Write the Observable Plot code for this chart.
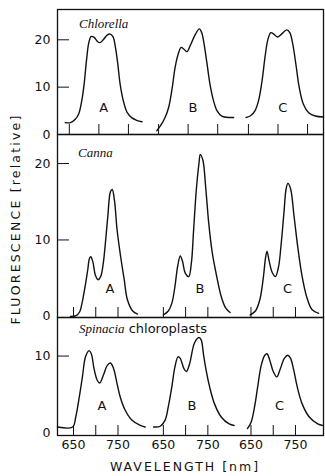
<!DOCTYPE html>
<html><head><meta charset="utf-8">
<script src="https://cdn.jsdelivr.net/npm/d3@7"></script>
<script src="https://cdn.jsdelivr.net/npm/@observablehq/plot@0.6"></script>
<style>
html,body{margin:0;padding:0;background:#fff;}
#root{position:relative;width:325px;height:476px;overflow:hidden;font-family:"DejaVu Sans",sans-serif;color:#111;}
#root svg{position:absolute;left:0;}
.lbl{position:absolute;white-space:nowrap;line-height:1;}
.sp{font-family:"Liberation Serif","DejaVu Serif",serif;font-style:italic;}
</style></head><body><div id="root"></div>
<script>
// ---- Data (wavelength in nm, fluorescence relative) ----
const panels = ["A", "B", "C"];
const tickWavelengths = [650, 700, 750];
const labeledWavelengths = [650, 750];

// Chlorella
const chlorellaA_wl = [643, 652, 660, 666, 671, 675, 679, 683, 687, 692, 698, 702, 708, 714, 719, 724, 728, 732, 736, 742, 748, 756, 764, 773];
const chlorellaA_f  = [2.5, 2.5, 3.2, 4.4, 7.1, 10.6, 15.6, 19.4, 20.7, 20.5, 19.6, 19.4, 20.1, 21.0, 21.2, 20.6, 18.4, 14.9, 10.6, 6.8, 4.6, 3.5, 3.0, 2.7];
const chlorellaB_wl = [647, 653, 661, 667, 673, 678, 684, 688, 693, 698, 704, 712, 719, 723, 727, 732, 737, 743, 749, 757, 777];
const chlorellaB_f  = [0.8, 1.8, 3.6, 5.7, 9.8, 14.2, 17.3, 18.4, 18.0, 17.5, 18.9, 21.1, 22.3, 21.5, 19.1, 14.9, 10.6, 7.1, 5.0, 3.9, 3.6];
const chlorellaC_wl = [646, 653, 661, 667, 673, 678, 683, 688, 693, 699, 706, 715, 720, 725, 731, 736, 743, 752, 763, 777];
const chlorellaC_f  = [3.6, 3.9, 5.0, 7.1, 11.3, 16.3, 20.1, 21.5, 21.2, 20.6, 21.2, 22.1, 21.5, 19.1, 14.2, 9.9, 6.4, 4.6, 3.9, 3.7];

// Canna
const cannaA_wl = [643, 656, 664, 669, 676, 682, 686, 689, 694, 699, 705, 711, 717, 722, 727, 733, 737, 742, 748, 756, 764, 771, 783, 794];
const cannaA_f  = [0, 0.1, 0.6, 1.7, 3.9, 6.1, 7.6, 7.8, 7.0, 5.4, 4.8, 5.2, 7.0, 9.8, 13.0, 16.3, 16.6, 15.2, 11.3, 7.8, 4.8, 2.2, 0.7, 0.3];
const cannaB_wl = [650, 661, 669, 676, 682, 688, 693, 699, 707, 713, 718, 724, 730, 733, 739, 745, 752, 760, 770, 780, 790, 800];
const cannaB_f  = [0.2, 0.7, 1.7, 3.9, 6.5, 7.9, 7.2, 5.7, 5.2, 7.0, 11.3, 16.5, 20.0, 21.2, 20.4, 17.0, 12.2, 8.3, 5.2, 2.6, 1.1, 0.5];
const cannaC_wl = [648, 660, 670, 678, 683, 686, 691, 698, 705, 712, 718, 724, 729, 733, 739, 747, 756, 765, 775, 787, 802];
const cannaC_f  = [0.2, 0.7, 2.2, 5.2, 7.8, 8.5, 7.2, 5.7, 5.2, 6.5, 9.6, 13.5, 16.7, 17.4, 16.7, 13.0, 8.7, 5.2, 2.6, 0.9, 0.4];

// Spinacia chloroplasts
const spinaciaA_wl = [614, 648, 655, 663, 670, 677, 685, 690, 696, 703, 709, 717, 726, 733, 740, 748, 755, 766, 781, 800, 811];
const spinaciaA_f  = [0.8, 0.8, 2.1, 4.7, 7.3, 9.9, 10.7, 10.3, 8.4, 6.9, 6.5, 7.5, 8.8, 9.1, 8.4, 6.4, 4.7, 3.0, 1.7, 1.0, 0.8];
const spinaciaB_wl = [628, 643, 654, 661, 669, 676, 683, 688, 696, 702, 709, 720, 730, 735, 740, 746, 754, 765, 780, 798, 809];
const spinaciaB_f  = [0.8, 0.9, 1.7, 3.4, 6.0, 8.6, 9.9, 9.7, 8.4, 8.0, 9.0, 11.7, 12.4, 12.1, 10.3, 8.2, 6.0, 3.8, 2.1, 1.2, 1.0];
const spinaciaC_wl = [642, 650, 658, 665, 673, 681, 686, 692, 700, 708, 715, 725, 733, 739, 746, 754, 765, 781, 800, 811];
const spinaciaC_f  = [0.6, 1.4, 3.4, 6.0, 8.8, 10.1, 10.3, 9.5, 8.0, 7.3, 8.2, 9.7, 10.1, 9.7, 8.2, 6.0, 3.8, 2.1, 1.2, 1.0];

const yTicksChlorella = [0, 10, 20];
const yTicksCanna = [0, 10, 20];
const yTicksSpinacia = [0, 10];

// ---- Layout ----
const W = 325, ML = 57, MR = 2;
const ink = "#111";
const root = document.getElementById("root");

function drawRow(o) {
  const table = [];
  o.curves.forEach(([wl, f], i) => {
    wl.forEach((w, j) => table.push({panel: panels[i], x: w + o.offsets[i], y: f[j]}));
  });
  const tickPos = o.offsets.flatMap(off => tickWavelengths.map(w => w + off));
  const labelMap = new Map(o.offsets.flatMap(off => labeledWavelengths.map(w => [w + off, String(w)])));
  const plotW = W - ML - MR;
  const plotH = o.height - o.marginTop - o.marginBottom;
  const letters = panels.map((p, i) => ({p, x: o.letterWl + o.offsets[i], y: o.letterY}));
  const marks = [
    Plot.frame({stroke: ink, strokeWidth: 1.3}),
    Plot.tickX(tickPos, {x: d => d, insetTop: plotH - 10, stroke: ink, strokeWidth: 1}),
    Plot.tickY(o.yTicks.filter(d => d > 0), {y: d => d, insetRight: plotW - 12, stroke: ink, strokeWidth: 1}),
    Plot.axisY(o.yTicks, {tickSize: 0, tickPadding: 7, fontSize: 12.5, label: null}),
    Plot.line(table, {x: "x", y: "y", z: "panel", curve: "catmull-rom", stroke: ink, strokeWidth: 1.4}),
    Plot.text(letters, {x: "x", y: "y", text: "p", fontSize: 13, fill: ink})
  ];
  if (o.xLabels) {
    marks.push(Plot.axisX([...labelMap.keys()], {tickSize: 0, tickPadding: 5, fontSize: 12.5, tickFormat: d => labelMap.get(d), label: null}));
  }
  const svg = Plot.plot({
    width: W, height: o.height,
    marginLeft: ML, marginRight: MR, marginTop: o.marginTop, marginBottom: o.marginBottom,
    x: {domain: o.xDomain, axis: o.xLabels ? undefined : null},
    y: {domain: o.yDomain},
    style: {background: "transparent", overflow: "visible", color: ink, fontFamily: "DejaVu Sans, sans-serif"},
    marks
  });
  svg.style.top = o.top + "px";
  root.appendChild(svg);
}

drawRow({
  curves: [[chlorellaA_wl, chlorellaA_f], [chlorellaB_wl, chlorellaB_f], [chlorellaC_wl, chlorellaC_f]],
  offsets: [0, 151, 303], xDomain: [630, 1080], yDomain: [0, 26.4], yTicks: yTicksChlorella,
  top: 0, height: 140, marginTop: 9, marginBottom: 6, letterWl: 708, letterY: 5.6, xLabels: false
});
drawRow({
  curves: [[cannaA_wl, cannaA_f], [cannaB_wl, cannaB_f], [cannaC_wl, cannaC_f]],
  offsets: [0, 202, 399], xDomain: [614, 1212], yDomain: [-0.15, 23.8], yTicks: yTicksCanna,
  top: 128, height: 195, marginTop: 6, marginBottom: 6, letterWl: 732, letterY: 3.6, xLabels: false
});
drawRow({
  curves: [[spinaciaA_wl, spinaciaA_f], [spinaciaB_wl, spinaciaB_f], [spinaciaC_wl, spinaciaC_f]],
  offsets: [0, 202, 399], xDomain: [614, 1212], yDomain: [-0.3, 15.0], yTicks: yTicksSpinacia,
  top: 311, height: 165, marginTop: 6, marginBottom: 41, letterWl: 714, letterY: 3.6, xLabels: true
});

function label(html, css) {
  const d = document.createElement("div");
  d.className = "lbl";
  d.innerHTML = html;
  Object.assign(d.style, css);
  root.appendChild(d);
}
label('<span class="sp">Chlorella</span>', {left: "79px", top: "17px", fontSize: "13px"});
label('<span class="sp">Canna</span>', {left: "78px", top: "146px", fontSize: "13px"});
label('<span class="sp">Spinacia</span> chloroplasts', {left: "79px", top: "322px", fontSize: "13px"});
label('WAVELENGTH [nm]', {left: "185px", top: "467px", fontSize: "12.5px", letterSpacing: "2px", transform: "translate(-50%,-50%)"});
label('FLUORESCENCE [relative]', {left: "16px", top: "219px", fontSize: "12.5px", letterSpacing: "2.2px", transform: "translate(-50%,-50%) rotate(-90deg)"});
</script>
</body></html>
